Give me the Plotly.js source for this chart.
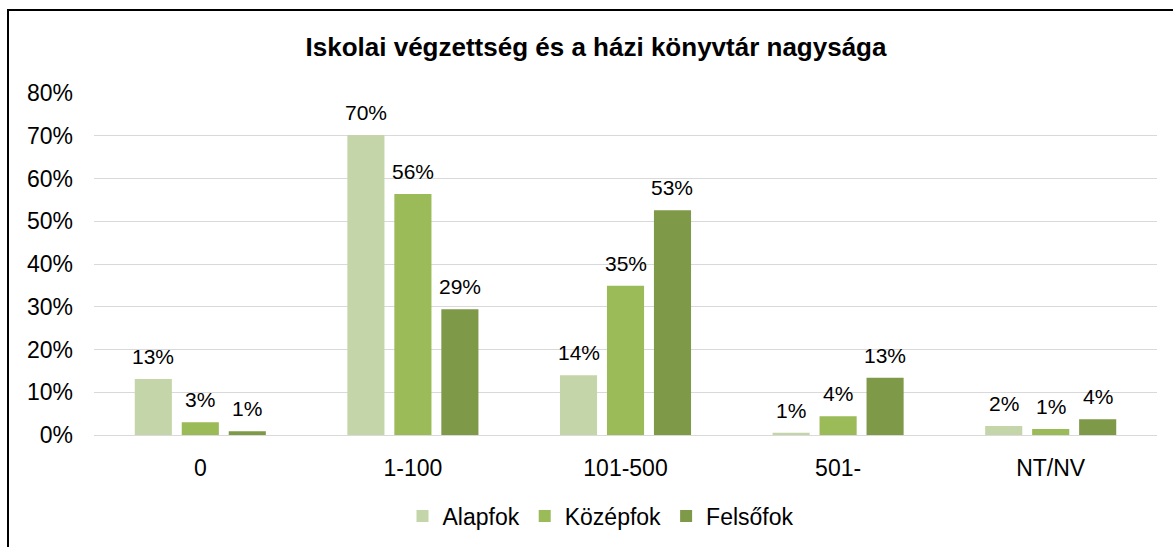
<!DOCTYPE html>
<html>
<head>
<meta charset="utf-8">
<script src="https://cdn.plot.ly/plotly-3.0.1.min.js"></script>
<style>
  html, body { margin: 0; padding: 0; overflow: hidden; background: #fff; }
  #wrap { position: relative; width: 1173px; height: 547px; }
  #chart { position: absolute; left: 0; top: 0; width: 1173px; height: 547px; }
  #frame { position: absolute; left: 7px; top: 9px; width: 1220px; height: 620px;
           border: 2px solid #000; pointer-events: none; }
</style>
</head>
<body>
<div id="wrap">
  <div id="chart"></div>
  <div id="frame"></div>
</div>
<script>
// ---- data ----
const categories = ['0', '1-100', '101-500', '501-', 'NT/NV'];
const seriesNames = ['Alapfok', 'Középfok', 'Felsőfok'];
const alapfok  = [13.1, 70.2, 14.0, 0.5, 2.1];
const kozepfok = [3.0, 56.4, 34.9, 4.4, 1.4];
const felsofok = [0.9, 29.4, 52.6, 13.4, 3.7];
const yTicks = [0, 10, 20, 30, 40, 50, 60, 70, 80];

// ---- styling ----
const colors = ['#C4D6A9', '#9BBB59', '#7E9A49'];
const FONT = 'Liberation Sans, Arial, sans-serif';
const bargap = 0.337, bargroupgap = 0.21;
const slot = (1 - bargap) / 3;

const xIdx = categories.map((c, i) => i);
const allSeries = [alapfok, kozepfok, felsofok];

const traces = allSeries.map((vals, s) => ({
  type: 'bar',
  name: seriesNames[s],
  x: xIdx,
  y: vals,
  marker: { color: colors[s], line: { width: 0 } },
  hoverinfo: 'none'
}));

const annotations = [];
allSeries.forEach((vals, s) => {
  vals.forEach((v, i) => {
    annotations.push({
      x: i + (s - 1) * slot,
      y: v,
      xref: 'x', yref: 'y',
      text: Math.round(v) + '%',
      showarrow: false,
      yanchor: 'bottom',
      xanchor: 'center',
      yshift: 9,
      font: { family: FONT, size: 21, color: '#000' }
    });
  });
});

const layout = {
  width: 1173,
  height: 547,
  paper_bgcolor: '#fff',
  plot_bgcolor: '#fff',
  margin: { l: 94, r: 16, t: 93, b: 112, pad: 0 },
  font: { family: FONT, size: 23, color: '#000' },
  title: {
    text: '<b>Iskolai végzettség és a házi könyvtár nagysága</b>',
    font: { family: FONT, size: 26, color: '#000' },
    xref: 'container', yref: 'container',
    x: 596 / 1173, xanchor: 'center',
    y: 1 - 47 / 547, yanchor: 'middle'
  },
  barmode: 'group',
  bargap: bargap,
  bargroupgap: bargroupgap,
  xaxis: {
    type: 'linear',
    range: [-0.5, categories.length - 0.5],
    tickmode: 'array',
    tickvals: xIdx,
    ticktext: categories,
    showgrid: false,
    zeroline: false,
    showline: false,
    ticks: '',
    ticklabelstandoff: 17,
    tickfont: { family: FONT, size: 23, color: '#000' },
    fixedrange: true
  },
  yaxis: {
    range: [0, 80],
    tickmode: 'array',
    tickvals: yTicks,
    ticktext: yTicks.map(t => t + '%'),
    showgrid: true,
    gridcolor: '#D9D9D9',
    gridwidth: 1,
    zeroline: true,
    zerolinecolor: '#D9D9D9',
    zerolinewidth: 1,
    showline: false,
    ticks: '',
    ticklabelstandoff: 20,
    tickfont: { family: FONT, size: 23, color: '#000' },
    fixedrange: true
  },
  showlegend: true,
  legend: {
    orientation: 'h',
    xref: 'container', yref: 'container',
    x: 601 / 1173, xanchor: 'center',
    y: 1 - 516 / 547, yanchor: 'middle',
    font: { family: FONT, size: 23, color: '#000' },
    itemwidth: 30,
    traceorder: 'normal'
  },
  annotations: annotations
};

Plotly.newPlot('chart', traces, layout, { displayModeBar: false, staticPlot: true });
</script>
</body>
</html>
